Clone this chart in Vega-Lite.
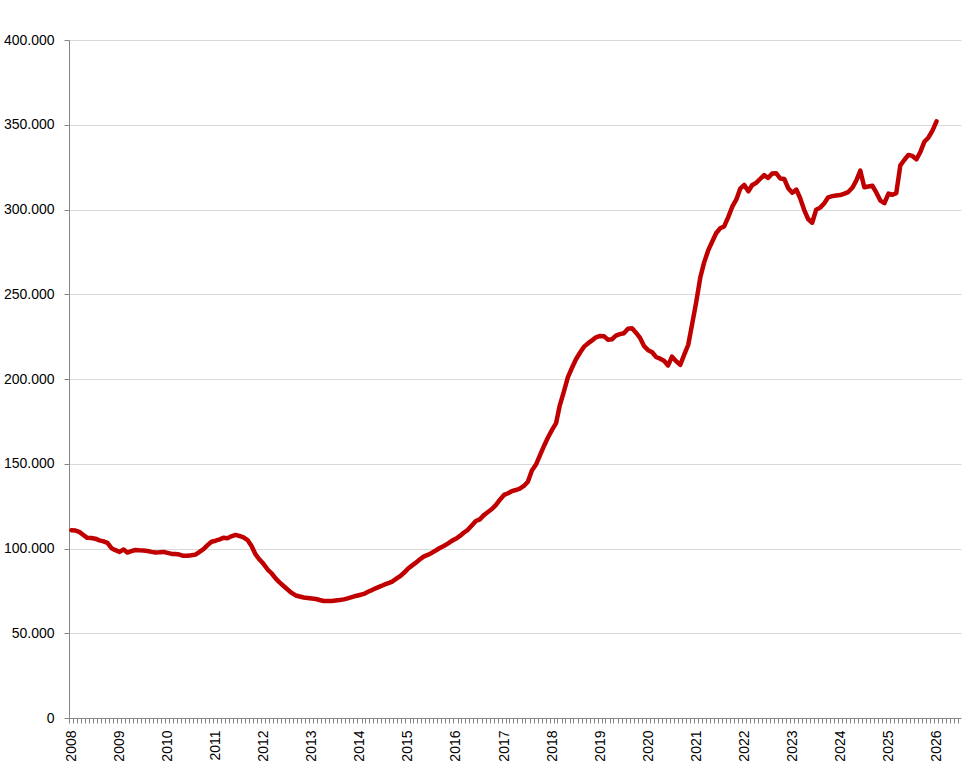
{
  "$schema": "https://vega.github.io/schema/vega-lite/v6.json",
  "width": 892,
  "height": 678,
  "autosize": {"type": "none"},
  "padding": {"left": 69, "top": 40, "right": 7, "bottom": 47},
  "background": "white",
  "data": {
    "values": [
      {"date": "2008-01-19", "value": 110800}, {"date": "2008-02-19", "value": 110600}, {"date": "2008-03-19", "value": 109800},
      {"date": "2008-04-19", "value": 108000}, {"date": "2008-05-19", "value": 106300}, {"date": "2008-06-19", "value": 106200},
      {"date": "2008-07-19", "value": 105800}, {"date": "2008-08-19", "value": 104800}, {"date": "2008-09-19", "value": 104200},
      {"date": "2008-10-19", "value": 103300}, {"date": "2008-11-19", "value": 100200}, {"date": "2008-12-19", "value": 99000},
      {"date": "2009-01-19", "value": 98000}, {"date": "2009-02-19", "value": 99400}, {"date": "2009-03-19", "value": 97600},
      {"date": "2009-04-19", "value": 98400}, {"date": "2009-05-19", "value": 99100}, {"date": "2009-06-19", "value": 98900},
      {"date": "2009-07-19", "value": 98800}, {"date": "2009-08-19", "value": 98500}, {"date": "2009-09-19", "value": 98000},
      {"date": "2009-10-19", "value": 97700}, {"date": "2009-11-19", "value": 97800}, {"date": "2009-12-19", "value": 98000},
      {"date": "2010-01-19", "value": 97400}, {"date": "2010-02-19", "value": 96800}, {"date": "2010-03-19", "value": 96700},
      {"date": "2010-04-19", "value": 96400}, {"date": "2010-05-19", "value": 95700}, {"date": "2010-06-19", "value": 95700},
      {"date": "2010-07-19", "value": 96000}, {"date": "2010-08-19", "value": 96400}, {"date": "2010-09-19", "value": 98000},
      {"date": "2010-10-19", "value": 99600}, {"date": "2010-11-19", "value": 102000}, {"date": "2010-12-19", "value": 104000},
      {"date": "2011-01-19", "value": 104600}, {"date": "2011-02-19", "value": 105400}, {"date": "2011-03-19", "value": 106300},
      {"date": "2011-04-19", "value": 106100}, {"date": "2011-05-19", "value": 107200}, {"date": "2011-06-19", "value": 108000},
      {"date": "2011-07-19", "value": 107400}, {"date": "2011-08-19", "value": 106600}, {"date": "2011-09-19", "value": 105000},
      {"date": "2011-10-19", "value": 101500}, {"date": "2011-11-19", "value": 96500}, {"date": "2011-12-19", "value": 93500},
      {"date": "2012-01-19", "value": 90800}, {"date": "2012-02-19", "value": 87600}, {"date": "2012-03-19", "value": 85400},
      {"date": "2012-04-19", "value": 82400}, {"date": "2012-05-19", "value": 80000}, {"date": "2012-06-19", "value": 77900},
      {"date": "2012-07-19", "value": 75800}, {"date": "2012-08-19", "value": 73800}, {"date": "2012-09-19", "value": 72300},
      {"date": "2012-10-19", "value": 71700}, {"date": "2012-11-19", "value": 71100}, {"date": "2012-12-19", "value": 70800},
      {"date": "2013-01-19", "value": 70500}, {"date": "2013-02-19", "value": 70200}, {"date": "2013-03-19", "value": 69600},
      {"date": "2013-04-19", "value": 69000}, {"date": "2013-05-19", "value": 69000}, {"date": "2013-06-19", "value": 69000},
      {"date": "2013-07-19", "value": 69300}, {"date": "2013-08-19", "value": 69600}, {"date": "2013-09-19", "value": 70000},
      {"date": "2013-10-19", "value": 70600}, {"date": "2013-11-19", "value": 71300}, {"date": "2013-12-19", "value": 72000},
      {"date": "2014-01-19", "value": 72600}, {"date": "2014-02-19", "value": 73200}, {"date": "2014-03-19", "value": 74300},
      {"date": "2014-04-19", "value": 75400}, {"date": "2014-05-19", "value": 76500}, {"date": "2014-06-19", "value": 77500},
      {"date": "2014-07-19", "value": 78500}, {"date": "2014-08-19", "value": 79400}, {"date": "2014-09-19", "value": 80300},
      {"date": "2014-10-19", "value": 81900}, {"date": "2014-11-19", "value": 83500}, {"date": "2014-12-19", "value": 85500},
      {"date": "2015-01-19", "value": 88000}, {"date": "2015-02-19", "value": 89900}, {"date": "2015-03-19", "value": 91500},
      {"date": "2015-04-19", "value": 93500}, {"date": "2015-05-19", "value": 95200}, {"date": "2015-06-19", "value": 96200},
      {"date": "2015-07-19", "value": 97400}, {"date": "2015-08-19", "value": 98800}, {"date": "2015-09-19", "value": 100300},
      {"date": "2015-10-19", "value": 101500}, {"date": "2015-11-19", "value": 102900}, {"date": "2015-12-19", "value": 104500},
      {"date": "2016-01-19", "value": 105700}, {"date": "2016-02-19", "value": 107400}, {"date": "2016-03-19", "value": 109300},
      {"date": "2016-04-19", "value": 111000}, {"date": "2016-05-19", "value": 113600}, {"date": "2016-06-19", "value": 116200},
      {"date": "2016-07-19", "value": 117200}, {"date": "2016-08-19", "value": 119700}, {"date": "2016-09-19", "value": 121500},
      {"date": "2016-10-19", "value": 123300}, {"date": "2016-11-19", "value": 125700}, {"date": "2016-12-19", "value": 128800},
      {"date": "2017-01-19", "value": 131600}, {"date": "2017-02-19", "value": 132600}, {"date": "2017-03-19", "value": 133800},
      {"date": "2017-04-19", "value": 134500}, {"date": "2017-05-19", "value": 135300}, {"date": "2017-06-19", "value": 136900},
      {"date": "2017-07-19", "value": 139400}, {"date": "2017-08-19", "value": 146000}, {"date": "2017-09-19", "value": 149500},
      {"date": "2017-10-19", "value": 155000}, {"date": "2017-11-19", "value": 160500}, {"date": "2017-12-19", "value": 165500},
      {"date": "2018-01-19", "value": 170000}, {"date": "2018-02-19", "value": 174000}, {"date": "2018-03-19", "value": 184500},
      {"date": "2018-04-19", "value": 192600}, {"date": "2018-05-19", "value": 201000}, {"date": "2018-06-19", "value": 206500},
      {"date": "2018-07-19", "value": 211500}, {"date": "2018-08-19", "value": 215500}, {"date": "2018-09-19", "value": 219100},
      {"date": "2018-10-19", "value": 221000}, {"date": "2018-11-19", "value": 222800}, {"date": "2018-12-19", "value": 224600},
      {"date": "2019-01-19", "value": 225400}, {"date": "2019-02-19", "value": 225200}, {"date": "2019-03-19", "value": 223200},
      {"date": "2019-04-19", "value": 223400}, {"date": "2019-05-19", "value": 225600}, {"date": "2019-06-19", "value": 226500},
      {"date": "2019-07-19", "value": 227000}, {"date": "2019-08-19", "value": 229600}, {"date": "2019-09-19", "value": 229900},
      {"date": "2019-10-19", "value": 227300}, {"date": "2019-11-19", "value": 224200}, {"date": "2019-12-19", "value": 219500},
      {"date": "2020-01-19", "value": 217000}, {"date": "2020-02-19", "value": 215800}, {"date": "2020-03-19", "value": 213000},
      {"date": "2020-04-19", "value": 212000}, {"date": "2020-05-19", "value": 210800}, {"date": "2020-06-19", "value": 208000},
      {"date": "2020-07-19", "value": 213200}, {"date": "2020-08-19", "value": 210500}, {"date": "2020-09-19", "value": 208300},
      {"date": "2020-10-19", "value": 214200}, {"date": "2020-11-19", "value": 220200}, {"date": "2020-12-19", "value": 232500},
      {"date": "2021-01-19", "value": 245500}, {"date": "2021-02-19", "value": 260000}, {"date": "2021-03-19", "value": 268500},
      {"date": "2021-04-19", "value": 275700}, {"date": "2021-05-19", "value": 280800}, {"date": "2021-06-19", "value": 286000},
      {"date": "2021-07-19", "value": 288900}, {"date": "2021-08-19", "value": 290000}, {"date": "2021-09-19", "value": 295500},
      {"date": "2021-10-19", "value": 301500}, {"date": "2021-11-19", "value": 305800}, {"date": "2021-12-19", "value": 312300},
      {"date": "2022-01-19", "value": 314500}, {"date": "2022-02-19", "value": 310700}, {"date": "2022-03-19", "value": 314300},
      {"date": "2022-04-19", "value": 315700}, {"date": "2022-05-19", "value": 318000}, {"date": "2022-06-19", "value": 320300},
      {"date": "2022-07-19", "value": 318600}, {"date": "2022-08-19", "value": 321200}, {"date": "2022-09-19", "value": 321400},
      {"date": "2022-10-19", "value": 318300}, {"date": "2022-11-19", "value": 318000}, {"date": "2022-12-19", "value": 312600},
      {"date": "2023-01-19", "value": 309900}, {"date": "2023-02-19", "value": 311700}, {"date": "2023-03-19", "value": 306800},
      {"date": "2023-04-19", "value": 299800}, {"date": "2023-05-19", "value": 294400}, {"date": "2023-06-19", "value": 292200},
      {"date": "2023-07-19", "value": 299800}, {"date": "2023-08-19", "value": 301100}, {"date": "2023-09-19", "value": 303700},
      {"date": "2023-10-19", "value": 307200}, {"date": "2023-11-19", "value": 307900}, {"date": "2023-12-19", "value": 308300},
      {"date": "2024-01-19", "value": 308500}, {"date": "2024-02-19", "value": 309400}, {"date": "2024-03-19", "value": 310300},
      {"date": "2024-04-19", "value": 312800}, {"date": "2024-05-19", "value": 317000}, {"date": "2024-06-19", "value": 322900},
      {"date": "2024-07-19", "value": 313100}, {"date": "2024-08-19", "value": 313600}, {"date": "2024-09-19", "value": 314000},
      {"date": "2024-10-19", "value": 309900}, {"date": "2024-11-19", "value": 305200}, {"date": "2024-12-19", "value": 303700},
      {"date": "2025-01-19", "value": 309400}, {"date": "2025-02-19", "value": 308700}, {"date": "2025-03-19", "value": 309600},
      {"date": "2025-04-19", "value": 326000}, {"date": "2025-05-19", "value": 329200}, {"date": "2025-06-19", "value": 332200},
      {"date": "2025-07-19", "value": 331600}, {"date": "2025-08-19", "value": 329600}, {"date": "2025-09-19", "value": 334100},
      {"date": "2025-10-19", "value": 340000}, {"date": "2025-11-19", "value": 342500}, {"date": "2025-12-19", "value": 346500},
      {"date": "2026-01-19", "value": 352000}
    ]
  },
  "mark": {
    "type": "line",
    "color": "#C00000",
    "strokeWidth": 4.5,
    "strokeCap": "round",
    "strokeJoin": "round"
  },
  "encoding": {
    "x": {
      "field": "date",
      "type": "temporal",
      "title": null,
      "scale": {"type": "utc", "domain": ["2008-01-01", "2026-07-24"]},
      "axis": {
        "grid": false,
        "tickCount": {"interval": "month", "step": 1},
        "tickSize": 5,
        "tickColor": "#868686",
        "domainColor": "#868686",
        "labelAngle": -90,
        "labelPadding": 7,
        "labelOffset": 2.5,
        "labelOverlap": false,
        "labelBound": false,
        "labelFlush": false,
        "labelExpr": "utcmonth(datum.value) == 0 ? utcFormat(datum.value, '%Y') : ''"
      }
    },
    "y": {
      "field": "value",
      "type": "quantitative",
      "title": null,
      "scale": {"domain": [0, 400000], "nice": false, "zero": true},
      "axis": {
        "values": [0, 50000, 100000, 150000, 200000, 250000, 300000, 350000, 400000],
        "gridColor": "#D9D9D9",
        "gridWidth": 1,
        "tickSize": 5,
        "tickColor": "#868686",
        "domainColor": "#868686",
        "labelPadding": 10,
        "labelExpr": "replace(format(datum.value, ','), ',', '.')"
      }
    }
  },
  "config": {
    "view": {"stroke": null},
    "axis": {
      "labelFont": "Liberation Sans",
      "labelFontSize": 14,
      "labelColor": "#000000",
      "domainWidth": 1,
      "tickWidth": 1
    }
  }
}
